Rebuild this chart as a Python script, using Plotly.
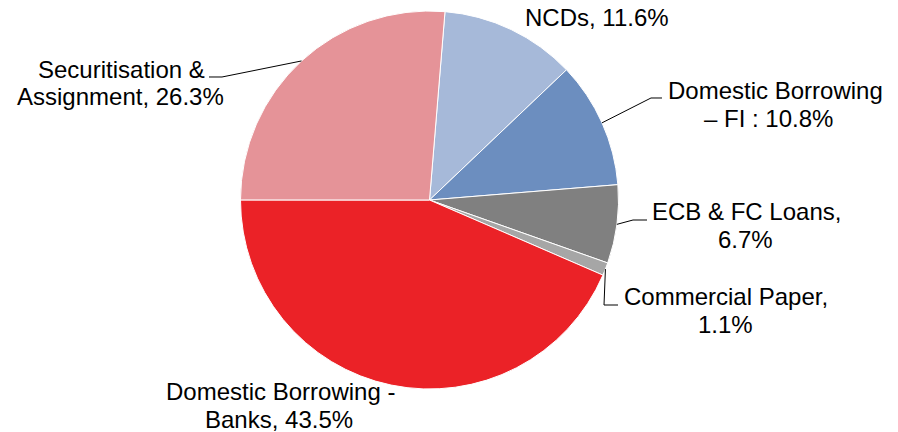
import math
import plotly.graph_objects as go

# ---- data ----
categories = ["NCDs", "Domestic Borrowing – FI", "ECB & FC Loans", "Commercial Paper",
              "Domestic Borrowing - Banks", "Securitisation & Assignment"]
values = [11.6, 10.8, 6.7, 1.1, 43.5, 26.3]
label_lines = [["NCDs, 11.6%"],
               ["Domestic Borrowing", "– FI : 10.8%"],
               ["ECB & FC Loans,", "6.7%"],
               ["Commercial Paper,", "1.1%"],
               ["Domestic Borrowing -", "Banks, 43.5%"],
               ["Securitisation &", "Assignment, 26.3%"]]
colors = ["#A6B9D9", "#6C8EBF", "#808080", "#A6A6A6", "#EB2227", "#E59398"]

# ---- layout (pixels) ----
W, H = 898, 432
CX, CY, R = 429.5, 200.0, 189.0
ROTATION = 4.7
LINE_GAP = 28
# (x of each line centre, y of first line centre)
label_pos = [([597], 18), ([775, 768.5], 90), ([746, 745.5], 211.5),
             ([725.5, 725], 296), ([280, 278.5], 391), ([121.5, 120.5], 69)]
leader = [None,
          [(651, 98), (662, 98)],
          [(633, 220), (647, 220)],
          [(604, 305), (618, 305)],
          None,
          [(222, 77), (209, 77)]]

def px(x):
    return x / W

def py(y):
    return 1 - y / H

fig = go.Figure()
fig.add_trace(go.Pie(
    labels=categories, values=values, sort=False, direction="clockwise",
    rotation=ROTATION, textinfo="none", hoverinfo="label+percent",
    marker=dict(colors=colors, line=dict(color="white", width=1)),
    domain=dict(x=[px(CX - R), px(CX + R)], y=[py(CY + R), py(CY - R)]),
    showlegend=False,
))

total = sum(values)
cum = 0.0
shapes = []
annotations = []
for i, v in enumerate(values):
    mid = ROTATION + (cum + v / 2) / total * 360
    cum += v
    ex = CX + R * math.sin(math.radians(mid))
    ey = CY - R * math.cos(math.radians(mid))
    if leader[i]:
        pts = [(ex, ey)] + leader[i]
        path = "M " + " L ".join(f"{px(a):.5f},{py(b):.5f}" for a, b in pts)
        shapes.append(dict(type="path", xref="paper", yref="paper", path=path,
                           line=dict(color="black", width=1)))
    xs, y0 = label_pos[i]
    for j, line in enumerate(label_lines[i]):
        annotations.append(dict(x=px(xs[j]), y=py(y0 + j * LINE_GAP), xref="paper", yref="paper",
                                text=line, showarrow=False, align="center",
                                xanchor="center", yanchor="middle",
                                font=dict(family="Liberation Sans, Arial, sans-serif",
                                          size=24, color="black")))

fig.update_layout(width=W, height=H, margin=dict(l=0, r=0, t=0, b=0),
                  paper_bgcolor="white", plot_bgcolor="white",
                  shapes=shapes, annotations=annotations)
fig.write_html("out.html", config={"displayModeBar": False},
               post_script="document.body.style.margin='0';document.body.style.overflow='hidden';")
